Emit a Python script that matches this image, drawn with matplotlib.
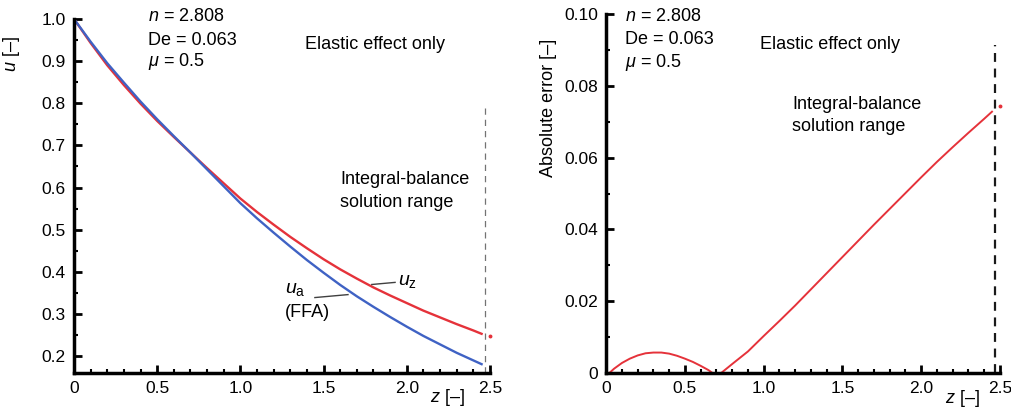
import numpy as np
import matplotlib
matplotlib.use("Agg")
import matplotlib.pyplot as plt
from matplotlib.ticker import MultipleLocator

plt.rcParams['font.family'] = ['Liberation Sans', 'DejaVu Sans']
plt.rcParams['mathtext.fontset'] = 'custom'
plt.rcParams['mathtext.it'] = 'Liberation Sans:italic'
plt.rcParams['mathtext.rm'] = 'Liberation Sans'

# velocity profiles (left panel)
z_u = [0, 0.1, 0.2, 0.3, 0.4, 0.5, 0.6, 0.7, 0.8, 0.9, 1.0, 1.1, 1.2, 1.3, 1.4, 1.5,
       1.6, 1.7, 1.8, 1.9, 2.0, 2.1, 2.2, 2.3, 2.4, 2.45]
u_a = [1.0, 0.946, 0.895, 0.849, 0.804, 0.762, 0.722, 0.683, 0.643, 0.603, 0.563, 0.527,
       0.493, 0.460, 0.428, 0.398, 0.369, 0.342, 0.317, 0.293, 0.270, 0.248, 0.228, 0.208,
       0.190, 0.181]
u_z = [1.0, 0.943, 0.890, 0.843, 0.799, 0.758, 0.720, 0.683, 0.646, 0.610, 0.574, 0.542,
       0.512, 0.483, 0.456, 0.430, 0.406, 0.384, 0.363, 0.344, 0.326, 0.308, 0.292, 0.276,
       0.261, 0.253]
u_z_end = (2.5, 0.247)

# absolute error (right panel), two branches
z_e1 = [0.02, 0.05, 0.1, 0.15, 0.2, 0.25, 0.3, 0.35, 0.4, 0.45, 0.5, 0.55, 0.6, 0.65, 0.675]
err1 = [0.0, 0.0012, 0.0028, 0.0040, 0.0049, 0.0055, 0.0057, 0.0057, 0.0054, 0.0048,
        0.0040, 0.0031, 0.0020, 0.0008, 0.0]
z_e2 = [0.73, 0.8, 0.9, 1.0, 1.1, 1.2, 1.3, 1.4, 1.5, 1.6, 1.7, 1.8, 1.9, 2.0, 2.1, 2.2,
        2.3, 2.4, 2.45]
err2 = [0.0, 0.0025, 0.0060, 0.0103, 0.0145, 0.0188, 0.0233, 0.0278, 0.0323, 0.0368,
        0.0413, 0.0457, 0.0501, 0.0545, 0.0588, 0.0629, 0.0669, 0.0708, 0.0728]
err_end = (2.5, 0.0745)

z_range = 2.47
red = '#e5323a'
blue = '#3f62c4'
fs = 13

fig = plt.figure(figsize=(10.12, 4.07), dpi=100)
ax1 = fig.add_axes([0.0731, 0.0835, 0.411, 0.87])
ax2 = fig.add_axes([0.599, 0.0835, 0.389, 0.882])

def style(ax, zx):
    for s in ['top', 'right']:
        ax.spines[s].set_visible(False)
    for s in ['left', 'bottom']:
        ax.spines[s].set_linewidth(2.5)
    ax.tick_params(which='major', direction='in', length=6, width=2, labelsize=12.5, pad=6)
    ax.tick_params(which='minor', direction='in', length=3, width=1.5)
    ax.set_xlim(0, 2.5)
    ax.set_xticks([0, 0.5, 1.0, 1.5, 2.0, 2.5])
    ax.set_xticklabels(['0', '0.5', '1.0', '1.5', '2.0', '2.5'])
    ax.xaxis.set_minor_locator(MultipleLocator(0.1))
    ax.text(zx, -0.07, r'$z$ [–]', transform=ax.transAxes, fontsize=fs, ha='center', va='center')

# left panel
style(ax1, 0.897)
ax1.plot(z_u, u_z, color=red, lw=1.7)
ax1.plot(z_u, u_a, color=blue, lw=1.7)
ax1.plot([u_z_end[0]], [u_z_end[1]], 'o', color=red, ms=1.8, clip_on=False)
ax1.set_ylim(0.16, 1.0)
ax1.set_yticks([0.2, 0.3, 0.4, 0.5, 0.6, 0.7, 0.8, 0.9, 1.0])
ax1.set_yticklabels(['0.2', '0.3', '0.4', '0.5', '0.6', '0.7', '0.8', '0.9', '1.0'])
ax1.yaxis.set_minor_locator(MultipleLocator(0.05))
ax1.set_ylabel(r'$u$ [–]', fontsize=fs)
ax1.yaxis.set_label_coords(-0.125, 0.9)
ax1.plot([z_range, z_range], [0.16, 0.79], color='0.45', lw=0.9, ls=(0, (5, 4)))
ax1.text(0.445, 1.005, '$n$ = 2.808', fontsize=fs, va='center', clip_on=False)
ax1.text(0.445, 0.950, 'De = 0.063', fontsize=fs, va='center')
ax1.text(0.445, 0.898, '$\\mu$ = 0.5', fontsize=fs, va='center')
ax1.text(1.388, 0.939, 'Elastic effect only', fontsize=fs, va='center')
ax1.text(1.60, 0.619, 'Integral-balance', fontsize=fs, va='center')
ax1.text(1.60, 0.565, 'solution range', fontsize=fs, va='center')
ax1.text(1.268, 0.358, r'$u_{\rm a}$', fontsize=fs + 1, va='center')
ax1.text(1.268, 0.303, '(FFA)', fontsize=fs, va='center')
ax1.plot([1.448, 1.647], [0.339, 0.346], color='0.25', lw=1)
ax1.text(1.95, 0.377, r'$u_{\rm z}$', fontsize=fs + 1, va='center')
ax1.plot([1.79, 1.93], [0.370, 0.375], color='0.25', lw=1)

# right panel
style(ax2, 0.906)
ax2.plot(z_e1, err1, color=red, lw=1.4)
ax2.plot(z_e2, err2, color=red, lw=1.4)
ax2.plot([err_end[0]], [err_end[1]], 'o', color=red, ms=1.8, clip_on=False)
ax2.set_ylim(0, 0.10)
ax2.set_yticks([0, 0.02, 0.04, 0.06, 0.08, 0.10])
ax2.set_yticklabels(['0', '0.02', '0.04', '0.06', '0.08', '0.10'])
ax2.yaxis.set_minor_locator(MultipleLocator(0.01))
ax2.set_ylabel('Absolute error [–]', fontsize=fs)
ax2.yaxis.set_label_coords(-0.125, 0.738)
ax2.plot([z_range, z_range], [0, 0.0914], color='0.1', lw=1.6, ls=(0, (4, 3)))
ax2.text(0.12, 0.0992, '$n$ = 2.808', fontsize=fs, va='center')
ax2.text(0.12, 0.0930, 'De = 0.063', fontsize=fs, va='center')
ax2.text(0.12, 0.0866, '$\\mu$ = 0.5', fontsize=fs, va='center')
ax2.text(0.975, 0.0914, 'Elastic effect only', fontsize=fs, va='center')
ax2.text(1.18, 0.0747, 'Integral-balance', fontsize=fs, va='center')
ax2.text(1.18, 0.0688, 'solution range', fontsize=fs, va='center')

fig.savefig('out.png', dpi=100)
